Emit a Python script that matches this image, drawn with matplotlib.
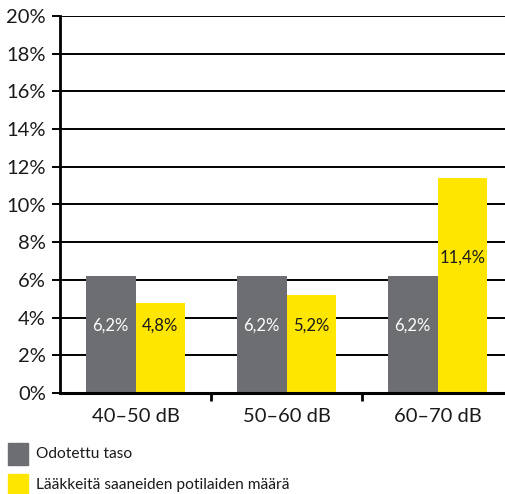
import matplotlib
matplotlib.use("Agg")
import matplotlib.pyplot as plt
from matplotlib.patches import Rectangle
from matplotlib.ticker import FixedLocator

categories = ["40–50 dB", "50–60 dB", "60–70 dB"]
expected = [6.2, 6.2, 6.2]
patients = [4.8, 5.2, 11.4]
series_names = ["Odotettu taso", "Lääkkeitä saaneiden potilaiden määrä"]
y_ticks = [0, 2, 4, 6, 8, 10, 12, 14, 16, 18, 20]

GRAY = "#6d6e71"
YELLOW = "#ffe600"
TEXT = "#1a1a1a"

plt.rcParams["font.family"] = ["Lato", "DejaVu Sans"]

W, H = 506, 494
fig = plt.figure(figsize=(W / 100, H / 100), dpi=100)
left, right, top, bottom = 60, 513, 16, 393
ax = fig.add_axes([left / W, 1 - bottom / H, (right - left) / W, (bottom - top) / H])

x = list(range(len(categories)))
bw = 0.33
ax.bar([i - bw / 2 for i in x], expected, width=bw, color=GRAY, zorder=2)
ax.bar([i + bw / 2 for i in x], patients, width=bw, color=YELLOW, zorder=2)

def fmt(v):
    return f"{v:.1f}%".replace(".", ",")

for i in x:
    ax.text(i - bw / 2, max(3.6, expected[i] - 4.2), fmt(expected[i]), ha="center", va="center",
            color="white", fontsize=12, zorder=3)
    ax.text(i + bw / 2, max(3.6, patients[i] - 4.2), fmt(patients[i]), ha="center", va="center",
            color=TEXT, fontsize=12, zorder=3)

ax.set_xlim(-0.5, len(categories) - 0.5)
ax.set_ylim(0, 20)
ax.set_yticks(y_ticks)
ax.set_yticklabels([f"{t}%" for t in y_ticks], fontsize=14.5, color=TEXT)
ax.yaxis.grid(True, color="black", linewidth=1.4, zorder=1)
ax.set_axisbelow(True)

ax.set_xticks(x)
ax.set_xticklabels(categories, fontsize=14.5, color=TEXT)
ax.xaxis.set_minor_locator(FixedLocator([0.5, 1.5]))
ax.tick_params(axis="x", which="major", length=0, pad=11)
ax.tick_params(axis="x", which="minor", length=6, width=2, direction="out", color="black")
ax.tick_params(axis="y", length=6, width=1.4, direction="out", color="black", pad=4)

for s in ["top", "right"]:
    ax.spines[s].set_visible(False)
ax.spines["left"].set_linewidth(2)
ax.spines["bottom"].set_linewidth(2.2)
ax.spines["bottom"].set_zorder(4)

# legend drawn as squares with labels below the plot
for k, (name, col) in enumerate(zip(series_names, [GRAY, YELLOW])):
    y0 = 443 + k * 31
    fig.patches.append(Rectangle((8 / W, 1 - (y0 + 22) / H), 20 / W, 22 / H,
                                 transform=fig.transFigure, color=col))
    fig.text(36 / W, 1 - (y0 + 11) / H, name, ha="left", va="center",
             fontsize=11.2, color=TEXT)

fig.savefig("out.png", dpi=100)
